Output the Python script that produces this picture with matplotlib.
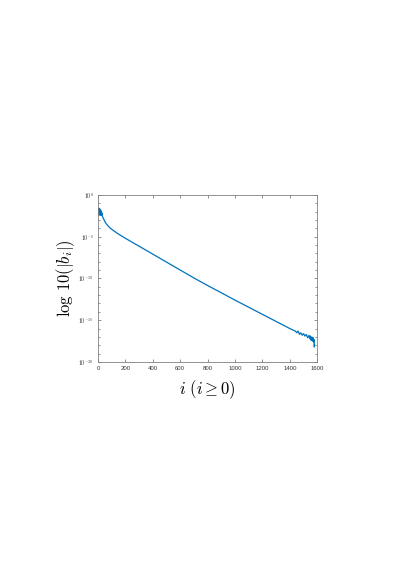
import numpy as np
import matplotlib
matplotlib.use("Agg")
from matplotlib import pyplot as plt
from matplotlib.ticker import FixedLocator, FixedFormatter

plt.rcParams['mathtext.fontset'] = 'cm'

# index i and log10 of |b_i|
idx = [0, 1, 2, 3, 4, 5, 6, 7, 8, 9, 10, 11, 12, 13, 14, 15, 16, 17, 18, 19,
       20, 21, 22, 23, 24, 25, 26, 27, 28, 30, 40, 50, 62, 75, 87, 100, 125,
       150, 175, 200, 250, 300, 350, 400, 450, 500, 600, 700, 800, 900, 1000,
       1100, 1200, 1300, 1400, 1440, 1450, 1460, 1470, 1480, 1490, 1500, 1510,
       1520, 1530, 1540, 1545, 1550, 1555, 1560, 1565, 1570, 1573, 1576, 1578,
       1580]
log_b = [-1.7, -2.3, -1.6, -2.2, -1.7, -2.4, -1.6, -2.3, -1.8, -2.4, -1.7,
         -2.3, -1.8, -2.4, -1.7, -2.3, -1.9, -2.4, -1.8, -2.3, -1.9, -2.4,
         -2.0, -2.4, -2.0, -2.4, -2.1, -2.4, -2.2, -2.5, -2.85, -3.2, -3.5,
         -3.75, -3.95, -4.12, -4.42, -4.7, -4.95, -5.2, -5.68, -6.15, -6.62,
         -7.1, -7.57, -8.05, -9.0, -9.95, -10.85, -11.72, -12.6, -13.45, -14.3,
         -15.15, -16.0, -16.3, -16.5, -16.3, -16.7, -16.5, -16.8, -16.6,
         -16.9, -16.7, -17.1, -16.8, -17.2, -16.9, -17.4, -17.0, -17.5, -17.1,
         -17.6, -17.3, -18.2, -17.9]

xticks = [0, 200, 400, 600, 800, 1000, 1200, 1400, 1600]
ytick_exp = [-20, -15, -10, -5, 0]

fig = plt.figure(figsize=(4.03, 5.71), dpi=100)
ax = fig.add_axes([0.2432, 0.366, 0.5441, 0.2928])

ax.plot(idx, 10.0 ** np.array(log_b), color='#0072BD', lw=0.9)

ax.set_yscale('log')
ax.set_xlim(0, 1600)
ax.set_ylim(1e-20, 1e0)

ax.xaxis.set_major_locator(FixedLocator(xticks))
ax.set_xticklabels([str(t) for t in xticks])
ax.yaxis.set_major_locator(FixedLocator([10.0 ** e for e in ytick_exp]))
ax.yaxis.set_major_formatter(FixedFormatter(['$10^{%d}$' % e for e in ytick_exp]))
ax.yaxis.set_minor_locator(FixedLocator([10.0 ** e for e in range(-20, 1)]))
ax.yaxis.set_minor_formatter(FixedFormatter([''] * 21))

ax.tick_params(which='both', direction='in', top=True, right=True,
               colors='#666666', labelcolor='#333333', width=0.5)
ax.tick_params(which='major', length=2.0, labelsize=4.3, pad=3)
ax.tick_params(which='minor', length=1.2)
for lab in ax.get_xticklabels() + ax.get_yticklabels():
    lab.set_family('Liberation Sans')

for s in ax.spines.values():
    s.set_color('#808080')
    s.set_linewidth(0.6)

ax.set_xlabel(r'$i\ (i \geq 0)$', fontsize=12, labelpad=5)
ax.set_ylabel(r'$\log\,10(|b_i|)$', fontsize=12, labelpad=1)

fig.savefig('out.png', dpi=100)
